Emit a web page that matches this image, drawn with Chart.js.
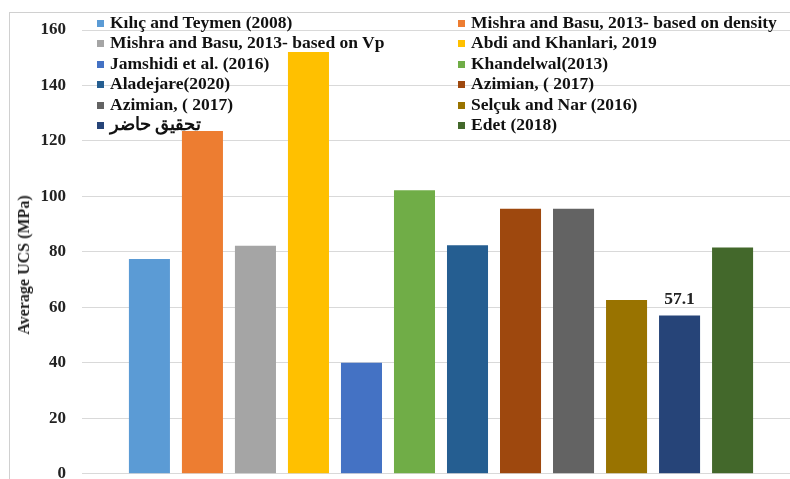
<!DOCTYPE html>
<html>
<head>
<meta charset="utf-8">
<script src="https://cdn.jsdelivr.net/npm/chart.js@4/dist/chart.umd.min.js"></script>
<style>
  html, body {
    margin: 0;
    padding: 0;
    width: 790px;
    height: 479px;
    overflow: hidden;
    background: #fff;
  }
  #frame {
    position: absolute;
    left: 9px;
    top: 12px;
    width: 820px;
    height: 500px;
    border: 1px solid #d0d0d0;
    box-sizing: border-box;
  }
  #ucsChart {
    position: absolute;
    left: 0;
    top: 0;
  }
  #yTitle {
    position: absolute;
    left: 24px;
    top: 265px;
    transform: translate(-50%, -50%) rotate(-90deg);
    white-space: nowrap;
    font: bold 16px "Liberation Serif", serif;
    color: #222;
  }
  #legend {
    position: absolute;
    left: 97px;
    top: 12px;
    display: grid;
    grid-template-columns: 361px auto;
    font: bold 17.5px "Liberation Serif", serif;
    color: #111;
    line-height: 20.4px;
  }
  #legend .item { white-space: nowrap; }
  #legend .box {
    display: inline-block;
    width: 7px;
    height: 7px;
    margin-right: 6px;
    vertical-align: 1px;
  }
  #legend .rtl { unicode-bidi: isolate; }
</style>
</head>
<body>
<div id="frame"></div>
<canvas id="ucsChart" width="810" height="500"></canvas>
<div id="yTitle">Average UCS (MPa)</div>
<div id="legend"></div>

<script>
// ─── Data ─────────────────────────────────────────────────────────────────────

const seriesNames = [
  "Kılıç and Teymen (2008)",
  "Mishra and Basu, 2013- based on density",
  "Mishra and Basu, 2013- based on Vp",
  "Abdi and Khanlari, 2019",
  "Jamshidi et al. (2016)",
  "Khandelwal(2013)",
  "Aladejare(2020)",
  "Azimian, ( 2017)",
  "Azimian, ( 2017)",
  "Selçuk and Nar (2016)",
  "تحقیق حاضر",
  "Edet (2018)",
];

const seriesValues = [77.4, 123.6, 82.2, 152.1, 40.0, 102.2, 82.4, 95.6, 95.6, 62.7, 57.1, 81.6];

const seriesColors = [
  "#5B9BD5", "#ED7D31", "#A5A5A5", "#FFC000", "#4472C4", "#70AD47",
  "#255E91", "#9E480E", "#636363", "#997300", "#264478", "#43682B",
];

// only the present study bar carries a value label
const barLabels = [null, null, null, null, null, null, null, null, null, null, "57.1", null];

const yTicks = [0, 20, 40, 60, 80, 100, 120, 140, 160];

// ─── Value label plugin ───────────────────────────────────────────────────────

const valueLabels = {
  id: "valueLabels",
  afterDatasetsDraw(chart) {
    const ctx = chart.ctx;
    ctx.save();
    ctx.font = "bold 17.5px 'Liberation Serif', serif";
    ctx.fillStyle = "#222";
    ctx.textAlign = "center";
    ctx.textBaseline = "alphabetic";
    chart.data.datasets.forEach((ds, i) => {
      if (!barLabels[i]) return;
      const bar = chart.getDatasetMeta(i).data[0];
      ctx.fillText(barLabels[i], bar.x, bar.y - 11);
    });
    ctx.restore();
  },
};

// ─── Chart ────────────────────────────────────────────────────────────────────

const datasets = seriesNames.map((name, i) => ({
  label: name,
  data: [seriesValues[i]],
  backgroundColor: seriesColors[i],
  borderWidth: 0,
  categoryPercentage: 0.886,
  barPercentage: 0.774,
}));

const chart = new Chart(document.getElementById("ucsChart"), {
  type: "bar",
  data: { labels: [""], datasets },
  options: {
    responsive: false,
    animation: false,
    layout: { padding: { top: 30, bottom: 17, left: 0, right: 10 } },
    plugins: {
      legend: { display: false },
      tooltip: { enabled: false },
    },
    scales: {
      x: { display: false },
      y: {
        min: yTicks[0],
        max: yTicks[yTicks.length - 1],
        afterBuildTicks: (scale) => {
          scale.ticks = yTicks.map((v) => ({ value: v }));
        },
        afterFit: (scale) => {
          scale.width = 82;
        },
        border: { display: false },
        grid: { color: "#d9d9d9", lineWidth: 1, drawTicks: false },
        ticks: {
          padding: 16,
          color: "#222",
          font: { family: "'Liberation Serif', serif", size: 17, weight: "bold" },
        },
      },
    },
  },
  plugins: [valueLabels],
});

// ─── HTML legend (two columns, row-wise like the original) ────────────────────

const legendEl = document.getElementById("legend");
legendEl.innerHTML = chart.data.datasets
  .map((ds) => {
    const rtl = /[\u0600-\u06FF]/.test(ds.label);
    return `<div class="item"><span class="box" style="background:${ds.backgroundColor}"></span>` +
      `<span class="${rtl ? "rtl" : ""}" dir="${rtl ? "rtl" : "ltr"}">${ds.label}</span></div>`;
  })
  .join("");
</script>
</body>
</html>
